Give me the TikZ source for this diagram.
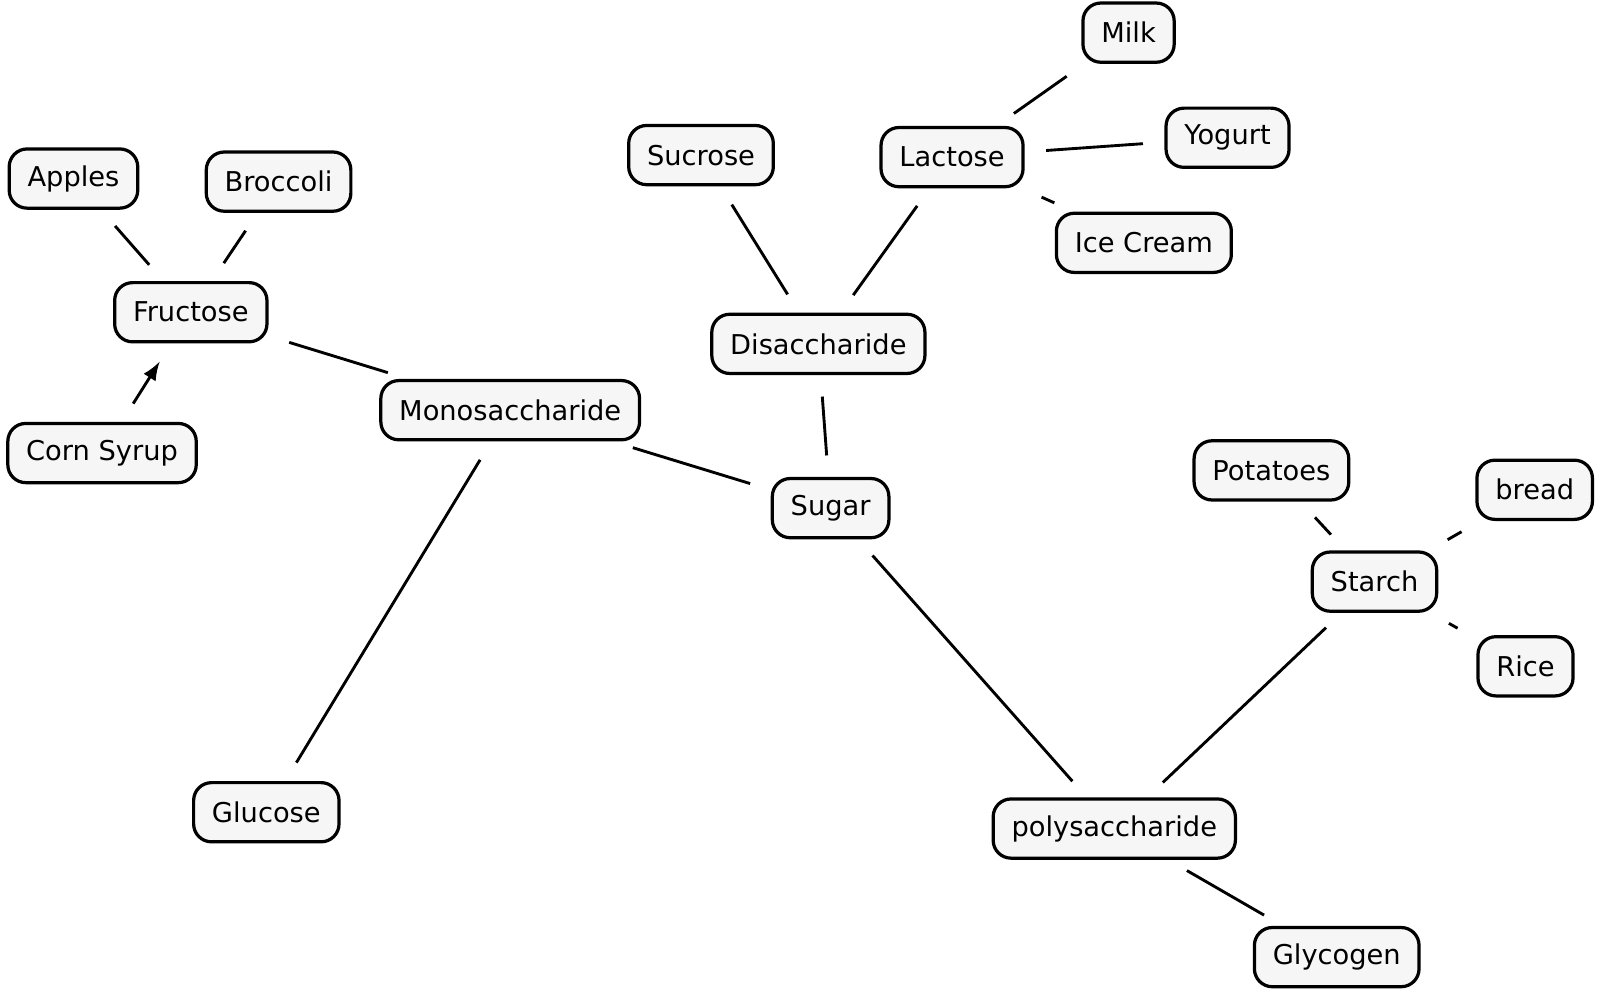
\documentclass[tikz,border=0pt]{standalone}
\usepackage{fontspec}
\setmainfont{DejaVu Sans}
\begin{document}
\begin{tikzpicture}[x=0.01cm,y=-0.01cm,
  box/.style={draw=black,line width=0.9pt,rounded corners=5pt,fill=cyan!4!gray!8,
    minimum height=0.58cm,inner xsep=0.18cm,font=\fontsize{7.6}{9}\selectfont},
  ln/.style={line width=0.8pt,shorten <=6pt,shorten >=6pt}]
\useasboundingbox (0,0) rectangle (1568,974);
\node[box] (apples) at (72,175) {Apples};
\node[box] (broccoli) at (273,178) {Broccoli};
\node[box] (fructose) at (187,306) {Fructose};
\node[box] (corn) at (100,444) {Corn Syrup};
\node[box] (mono) at (500,402) {Monosaccharide};
\node[box] (glucose) at (261,796) {Glucose};
\node[box] (sucrose) at (687,152) {Sucrose};
\node[box] (lactose) at (933,154) {Lactose};
\node[box] (milk) at (1106,32) {Milk};
\node[box] (yogurt) at (1203,135) {Yogurt};
\node[box] (ice) at (1121,238) {Ice Cream};
\node[box] (di) at (802,337) {Disaccharide};
\node[box] (sugar) at (814,498) {Sugar};
\node[box] (potatoes) at (1246,461) {Potatoes};
\node[box] (bread) at (1504,480) {bread};
\node[box] (starch) at (1347,570) {Starch};
\node[box] (rice) at (1495,653) {Rice};
\node[box] (poly) at (1092,812) {polysaccharide};
\node[box] (glycogen) at (1310,938) {Glycogen};
\draw[ln] (apples) -- (fructose);
\draw[ln] (broccoli) -- (fructose);
\draw[ln,-latex] (corn) -- (fructose);
\draw[ln] (fructose) -- (mono);
\draw[ln] (mono) -- (glucose);
\draw[ln] (mono) -- (sugar);
\draw[ln] (sugar) -- (di);
\draw[ln] (di) -- (sucrose);
\draw[ln] (di) -- (lactose);
\draw[ln] (lactose) -- (milk);
\draw[ln] (lactose) -- (yogurt);
\draw[ln] (lactose) -- (ice);
\draw[ln] (sugar) -- (poly);
\draw[ln] (poly) -- (starch);
\draw[ln] (poly) -- (glycogen);
\draw[ln] (starch) -- (potatoes);
\draw[ln] (starch) -- (bread);
\draw[ln] (starch) -- (rice);
\end{tikzpicture}
\end{document}
